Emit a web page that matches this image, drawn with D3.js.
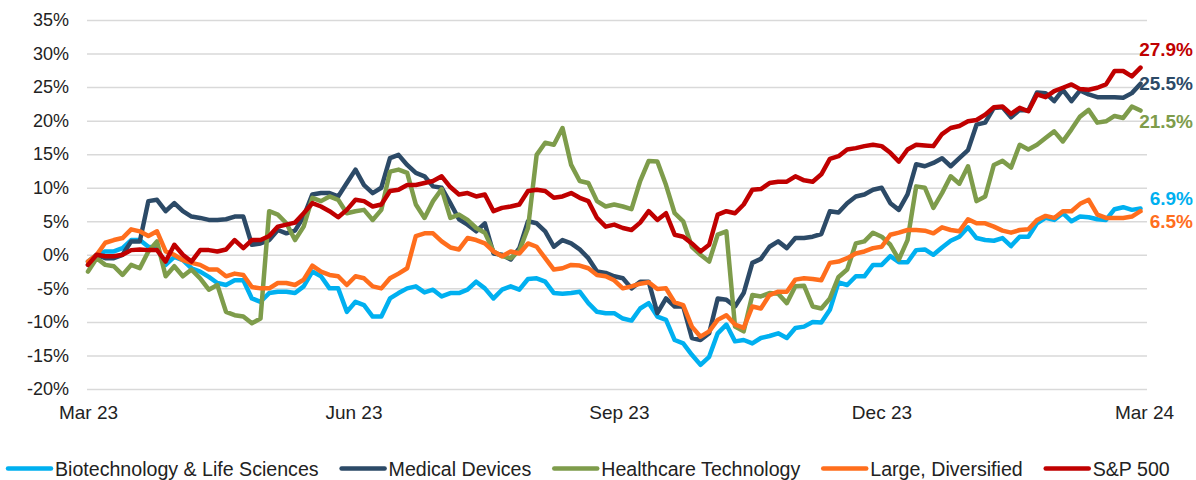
<!DOCTYPE html>
<html>
<head>
<meta charset="utf-8">
<script src="https://cdn.jsdelivr.net/npm/d3@7"></script>
<style>
  body { margin: 0; background: #fff; }
  svg { display: block; font-family: "Liberation Sans", Arial, sans-serif; }
  .grid line { stroke: #d9d9d9; stroke-width: 1.5; }
  .grid .domain { display: none; }
  .tick text { fill: #222; }
  .line { fill: none; stroke-width: 4.5; stroke-linejoin: round; stroke-linecap: round; }
</style>
</head>
<body>
<div id="line-chart"></div>
<script>
// Cumulative return (%), one sample roughly every 3 days, Mar 1 2023 -> end Feb 2024
var startDate = new Date(2023, 2, 1);
var dayStep = 2.99;

var seriesNames = [
  "Biotechnology & Life Sciences",
  "Medical Devices",
  "Healthcare Technology",
  "Large, Diversified",
  "S&P 500"
];

var biotech = [
  -1, 0, 0.5, 0.5, 1, 2.2, 2.2, 1.2, 1.0, -1.5, -0.3, -0.8, -2, -2.5, -3.3, -4.2, -4.5, -3.8, -3.8, -6.5, -7, -5.7,
  -5.5, -5.5, -5.7, -4.7, -2.5, -3.2, -5, -5, -8.5, -7, -7.5, -9.2, -9.2, -6.5, -5.7, -5, -4.7, -5.6, -5.2, -6.2, -5.7, -5.7,
  -5.2, -4, -5, -6.5, -5.2, -4.7, -5.2, -3.6, -3.5, -4, -5.7, -5.8, -5.7, -5.5, -7.2, -8.5, -8.7, -8.7, -9.5, -9.8, -8, -7.2,
  -9.2, -9.7, -12.7, -13.2, -14.9, -16.4, -15.2, -11.7, -10.4, -12.9, -12.7, -13.2, -12.4, -12.1, -11.7, -12.4, -10.9, -10.7, -10, -10.1, -8.2, -4.1,
  -4.5, -3.2, -3.2, -1.5, -1.5, -0.2, -1.1, -1.1, 0.7, 0.8, 0, 1.1, 2.1, 2.7, 4.1, 2.5, 2.2, 2.1, 2.5, 1.3, 2.7, 2.7,
  4.7, 5.5, 5.2, 6.2, 5, 5.7, 5.6, 5.3, 5.2, 6.8, 7.1, 6.7, 6.9
];

var medDevices = [
  -1.5, 0, -0.5, -0.5, 0, 2, 2, 8, 8.2, 6.5, 7.7, 6.5, 5.7, 5.5, 5.2, 5.2, 5.3, 5.7, 5.7, 1.5, 1.7, 2.2,
  3.7, 3.2, 3.6, 5.7, 9, 9.2, 9.2, 8.7, 10.7, 12.7, 10.4, 9.2, 10, 14.4, 14.9, 13.4, 12.2, 11.7, 10.2, 10, 7.7, 5.3,
  4.5, 3.5, 4.7, 0.2, 0, -0.7, 1, 5, 4.7, 3.5, 1.2, 2.2, 1.7, 0.8, -0.5, -2.5, -2.7, -3.2, -3.5, -5, -4, -4,
  -8.7, -6.5, -7.7, -7.7, -12.4, -12.7, -11.7, -6.5, -6.7, -7.7, -5.7, -1.2, -0.6, 1.2, 2, 1, 2.5, 2.5, 2.7, 3.1, 6.5, 6.3,
  7.7, 8.7, 9, 9.7, 10, 7.7, 6.7, 9, 13.5, 13.2, 13.7, 14.4, 13.2, 14.4, 15.6, 19.4, 19.7, 21.9, 22, 20.5, 21.6, 21.5,
  24.2, 24.1, 22.9, 24.6, 22.9, 24.5, 23.9, 23.5, 23.5, 23.5, 23.4, 24.1, 25.5
];

var hcTech = [
  -2.5, -0.5, -1.5, -1.7, -3, -1.5, -2, 0.5, 2, -3.2, -1.7, -3.2, -2.2, -3.5, -5.2, -4.5, -8.5, -9, -9.2, -10.2, -9.5, 6.5,
  6, 4.7, 2.2, 4.2, 8.5, 8, 8.7, 8.2, 6.2, 6.5, 6.7, 5.2, 6.7, 12.4, 12.7, 12.2, 7.5, 5.5, 8, 9.8, 5.5, 6,
  5.2, 4, 3.3, 0.5, -0.2, -0.5, 0.6, 4, 14.9, 16.7, 16.4, 18.9, 13.4, 11, 10.7, 8, 7.2, 7.5, 7.2, 6.8, 11, 14,
  13.9, 10.4, 6.2, 5, 1.2, 0, -1, 3, 3.5, -10.7, -11.4, -6, -6.2, -5.7, -5.8, -7.2, -4.7, -4.6, -7.7, -8, -6.5, -3.3,
  -2.2, 1.7, 2, 3.3, 2.7, 1.5, -0.7, 2.2, 10.2, 10, 7, 9.2, 11.7, 10.6, 13.2, 8, 8.7, 13.4, 14, 13, 16.4, 15.7,
  16.4, 17.4, 18.4, 16.9, 18.7, 20.6, 21.6, 19.7, 19.9, 20.7, 20.4, 22.1, 21.5
];

var largeDiv = [
  -1, 0, 1.8, 2.2, 2.5, 3.8, 3.5, 2.8, 3.5, 0.5, 0, -0.8, -1.2, -1.5, -2.2, -2.2, -3.2, -2.8, -3, -4.8, -5, -5,
  -4.2, -4.2, -4.5, -3.7, -1.6, -2.5, -3, -3.2, -4.5, -3.2, -3.5, -4.7, -5, -3.5, -2.8, -2, 2.8, 3.2, 3.2, 2, 1.1, 0.8,
  2.5, 2.2, 1.7, 0.5, -0.2, 0.5, 0.2, 1.7, 1.2, -0.5, -2.2, -2, -1.5, -1.6, -2, -3, -3.2, -3.8, -5, -4.7, -4.3, -4.1,
  -5.1, -5, -7.1, -7.5, -10.7, -12.2, -11.4, -9.7, -9, -10.4, -10.9, -7.7, -8, -6, -5.5, -5.5, -3.7, -3.5, -3.6, -3.8, -1.2, -1,
  -0.5, 0.2, 0.5, 1, 1.2, 3, 3.3, 3.7, 3.7, 3.6, 3.2, 4.1, 3.7, 3.5, 5.3, 4.7, 4.7, 4.2, 3.6, 3.3, 3.7, 3.8,
  5.2, 5.8, 5.5, 6.5, 6.5, 7.6, 8.2, 6, 5.5, 5.5, 5.5, 5.7, 6.5
];

var sp500 = [
  -1.5, 0, -0.2, -0.2, 0, 0.7, 0.8, 0.7, 0.7, -1.0, 1.5, 0, -1.0, 0.7, 0.7, 0.5, 0.8, 2.2, 1, 2.2, 2.2, 2.8,
  4.2, 4.5, 4.8, 6.2, 7.7, 7.2, 6.5, 5.6, 6.7, 8.2, 8.0, 7.2, 7.5, 9.5, 9.7, 10.4, 10.4, 10.7, 11, 11.7, 10.1, 9,
  9.2, 8.7, 9, 6.5, 7, 7.2, 7.5, 9.5, 9.7, 9.5, 8.5, 8.7, 9.2, 8.5, 8, 5.5, 4.2, 4.5, 4, 3.7, 4.8, 6.5,
  5.2, 6.2, 3, 2.7, 1.7, 0.5, 1.5, 6, 6.5, 6.2, 7.5, 9.7, 9.8, 10.7, 10.9, 10.9, 11.7, 11.1, 10.9, 12, 14.3, 14.7,
  15.7, 15.9, 16.2, 16.4, 16.2, 15.2, 13.9, 15.7, 16.4, 16.3, 16.2, 18, 18.9, 19.2, 19.9, 20.1, 20.9, 22, 22.1, 21, 21.9, 21.4,
  23.9, 23.5, 24.4, 24.9, 25.4, 24.7, 24.6, 24.9, 25.4, 27.4, 27.4, 26.6, 27.9
];

var seriesValues = [biotech, medDevices, hcTech, largeDiv, sp500];
var seriesColors = ["#00b0f0", "#2c4a67", "#7e9c4b", "#ff6e1d", "#c00000"];

var yTicks = [-20, -15, -10, -5, 0, 5, 10, 15, 20, 25, 30, 35];
var xTickDates = [
  new Date(2023, 2, 1), new Date(2023, 5, 1), new Date(2023, 8, 1),
  new Date(2023, 11, 1), new Date(2024, 2, 1)
];
var xTickLabels = ["Mar 23", "Jun 23", "Sep 23", "Dec 23", "Mar 24"];

// nudge end labels so they don't collide (px)
var labelNudge = [-10, 0, 11, 10, -18];

var render = function() {
  var width = 1196;
  var height = 480;

  var plot = { left: 87, right: 1147, top: 20, bottom: 389 };

  var svg = d3.select("#line-chart")
    .append("svg")
    .attr("width", width)
    .attr("height", height);

  var xScale = d3.scaleTime()
    .domain([xTickDates[0], xTickDates[xTickDates.length - 1]])
    .range([88, 1144]);

  var yScale = d3.scaleLinear()
    .domain([-20, 35])
    .range([plot.bottom, plot.top]);

  // y grid + labels
  var yAxis = d3.axisLeft(yScale)
    .tickValues(yTicks)
    .tickSize(-(plot.right - plot.left))
    .tickPadding(18)
    .tickFormat(d => d + "%");

  var yG = svg.append("g")
    .attr("class", "y grid")
    .attr("transform", `translate(${plot.left},0)`)
    .call(yAxis);
  yG.selectAll("text").style("font-size", "18px");

  // x labels
  var xAxis = d3.axisBottom(xScale)
    .tickValues(xTickDates)
    .tickSize(0)
    .tickPadding(17)
    .tickFormat((d, i) => xTickLabels[i]);

  var xG = svg.append("g")
    .attr("class", "x grid")
    .attr("transform", `translate(0,${plot.bottom})`)
    .call(xAxis);
  xG.selectAll("text").style("font-size", "19px");

  var data = seriesNames.map((name, k) => ({
    name: name,
    color: seriesColors[k],
    values: seriesValues[k].map((v, i) => ({
      date: d3.timeHour.offset(startDate, Math.round(i * dayStep * 24)),
      amt: v
    }))
  }));

  var line = d3.line()
    .x(d => xScale(d.date))
    .y(d => yScale(d.amt));

  svg.append("g")
    .attr("class", "lines")
    .selectAll("path")
    .data(data)
    .enter()
    .append("path")
    .attr("class", "line")
    .attr("stroke", d => d.color)
    .attr("d", d => line(d.values));

  // end values
  var lastItem = d => d.values[d.values.length - 1];

  svg.append("g")
    .attr("class", "value")
    .selectAll("text")
    .data(data)
    .enter()
    .append("text")
    .attr("x", 1193)
    .attr("y", (d, i) => yScale(lastItem(d).amt) + labelNudge[i])
    .attr("dy", "0.35em")
    .attr("text-anchor", "end")
    .attr("fill", d => d.color)
    .style("font-size", "19px")
    .style("font-weight", "bold")
    .text(d => lastItem(d).amt.toFixed(1) + "%");

  // legend
  var legend = svg.append("g").attr("class", "legend");
  var lx = 8;
  data.forEach(function(d) {
    legend.append("line")
      .attr("x1", lx)
      .attr("x2", lx + 43)
      .attr("y1", 468.5)
      .attr("y2", 468.5)
      .attr("stroke", d.color)
      .attr("stroke-width", 4.5)
      .attr("stroke-linecap", "round");
    var t = legend.append("text")
      .attr("x", lx + 47)
      .attr("y", 475.5)
      .attr("fill", "#222")
      .style("font-size", "19.6px")
      .text(d.name);
    lx += 47 + t.node().getComputedTextLength() + 23;
  });
};

window.onload = render;
</script>
</body>
</html>
